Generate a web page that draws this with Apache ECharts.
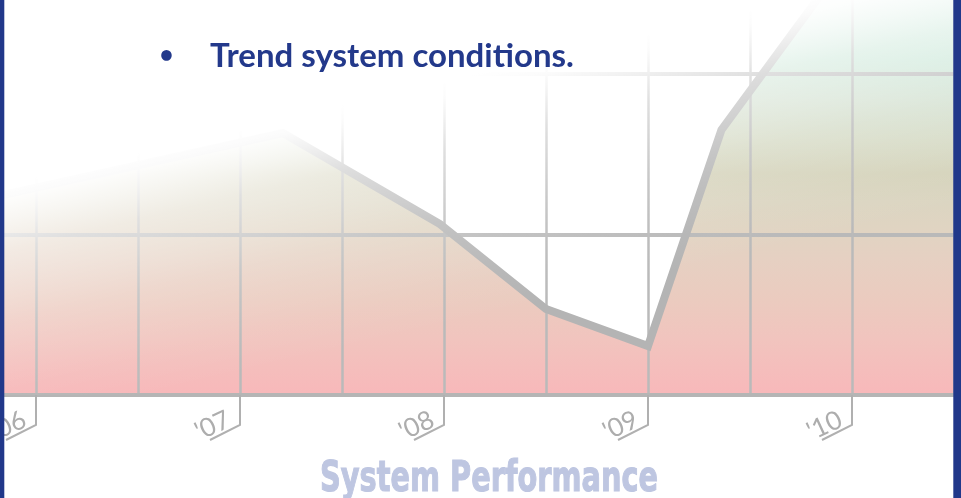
<!DOCTYPE html>
<html>
<head>
<meta charset="utf-8">
<script src="https://cdn.jsdelivr.net/npm/echarts/dist/echarts.min.js"></script>
<style>
html,body{margin:0;padding:0;background:#fff;}
body{position:relative;width:961px;height:498px;overflow:hidden;}
#chart{position:absolute;left:-66px;top:-87px;width:1027px;height:585px;}
</style>
</head>
<body>
<div id="chart"></div>
<script>
// ---- data ----
const lineYears  = [2005.5, 2007.21, 2007.98, 2008.5, 2009.0, 2009.36, 2010.0, 2010.5];
const lineValues = [1.15,   1.63,    1.064,   0.535,  0.305,  1.65,    2.757,  2.9];
const tickYears  = [2006, 2007, 2008, 2009, 2010];
const tickLabels = ["'06", "'07", "'08", "'09", "'10"];
const headline   = "Trend system conditions.";
const bullet     = "\u2022";
const caption    = "System Performance";

const seriesData = lineYears.map((y, i) => [y, lineValues[i]]);
const tickData   = tickYears.map(y => [y, 0]);

// the canvas is shifted so the plot can start outside the visible page
const OX = 66, OY = 87;

const chart = echarts.init(document.getElementById('chart'), null, {renderer: 'canvas'});

const areaGradient = new echarts.graphic.LinearGradient(0, OY, 0, OY + 395, [
  {offset: 0.00, color: '#cfeadd'},
  {offset: 0.15, color: '#c8e6d6'},
  {offset: 0.25, color: '#d3e1d1'},
  {offset: 0.35, color: '#d6dbc6'},
  {offset: 0.44, color: '#d5d3bb'},
  {offset: 0.51, color: '#dbd5c1'},
  {offset: 0.58, color: '#e0d4c2'},
  {offset: 0.66, color: '#e6d0c2'},
  {offset: 0.76, color: '#ebcbbf'},
  {offset: 0.86, color: '#f1c4be'},
  {offset: 1.00, color: '#f8b8ba'}
], true);

// white haze fading from the top-left corner
const nx = 0.227, ny = 0.974;
const hazeGradient = new echarts.graphic.LinearGradient(
  OX + nx * 100, OY + ny * 100, OX + nx * 500, OY + ny * 500, [
  {offset: 0.0000, color: 'rgba(255,255,255,1)'},
  {offset: 0.2000, color: 'rgba(255,255,255,1)'},
  {offset: 0.2375, color: 'rgba(255,255,255,0.95)'},
  {offset: 0.2875, color: 'rgba(255,255,255,0.8)'},
  {offset: 0.3625, color: 'rgba(255,255,255,0.55)'},
  {offset: 0.4125, color: 'rgba(255,255,255,0.45)'},
  {offset: 0.4800, color: 'rgba(255,255,255,0.33)'},
  {offset: 0.5375, color: 'rgba(255,255,255,0.22)'},
  {offset: 0.6025, color: 'rgba(255,255,255,0.14)'},
  {offset: 0.7000, color: 'rgba(255,255,255,0.05)'},
  {offset: 0.8000, color: 'rgba(255,255,255,0)'},
  {offset: 1.0000, color: 'rgba(255,255,255,0)'}
], true);

const option = {
  animation: false,
  backgroundColor: '#ffffff',
  title: [
    {
      text: bullet, left: OX + 154.5, top: OY + 38, z: 20,
      textStyle: {color: '#23398b', fontSize: 24, fontWeight: 'bold', fontFamily: 'Lato'}
    },
    {
      text: headline, left: OX + 205, top: OY + 34.5, z: 20,
      textStyle: {color: '#23398b', fontSize: 33, fontWeight: 'bold', fontFamily: 'Lato'}
    }
  ],
  grid: {left: 0, right: 7, top: 0, bottom: 103, containLabel: false},
  xAxis: {
    type: 'value', min: 2005.5, max: 2010.5, interval: 0.5, z: 2,
    axisLine: {show: true, onZero: false, lineStyle: {color: '#b5b5b5', width: 4}},
    axisTick: {show: false},
    axisLabel: {show: false},
    splitLine: {show: true, lineStyle: {color: '#bababa', width: 2.5}}
  },
  yAxis: {
    type: 'value', min: 0, max: 3, interval: 1, z: 2,
    axisLine: {show: false}, axisTick: {show: false}, axisLabel: {show: false},
    splitLine: {show: true, lineStyle: {color: '#b9b9b9', width: 4}}
  },
  series: [
    {
      type: 'line', data: seriesData, z: 1, symbol: 'none', silent: true,
      lineStyle: {width: 0},
      areaStyle: {color: areaGradient, opacity: 1}
    },
    {
      type: 'line', data: seriesData, z: 3, symbol: 'none', silent: true,
      lineStyle: {width: 8, color: '#b4b4b4', join: 'miter'}
    },
    {
      type: 'custom', data: tickData, z: 3, silent: true, clip: false,
      renderItem: function (params, api) {
        const p = api.coord([api.value(0), api.value(1)]);
        const x = p[0], y = p[1];
        return {
          type: 'group',
          children: [
            {type: 'polyline', shape: {points: [[x, y], [x, y + 30], [x - 30, y + 45]]},
             style: {stroke: '#b0b0b0', lineWidth: 2, fill: null}},
            {type: 'text', x: x - 6, y: y + 35, rotation: 25 * Math.PI / 180,
             style: {text: tickLabels[params.dataIndex], fill: '#adadad',
                     font: '400 26px Lato, sans-serif', align: 'right', verticalAlign: 'bottom'}}
          ]
        };
      }
    }
  ],
  graphic: {
    elements: [
      {type: 'rect', z: 10, silent: true, shape: {x: OX, y: OY, width: 961, height: 395}, style: {fill: hazeGradient}},
      {type: 'text', z: 20, silent: true, x: OX + 489, y: OY + 480.5, scaleX: 0.686,
       style: {text: caption, fill: '#bec6e1', stroke: '#bec6e1', lineWidth: 1.2,
               font: 'bold 42px "DejaVu Sans", sans-serif',
               align: 'center', verticalAlign: 'middle'}},
      {type: 'rect', z: 30, silent: true, shape: {x: OX, y: OY, width: 4.3, height: 498}, style: {fill: '#21388a'}},
      {type: 'rect', z: 30, silent: true, shape: {x: OX + 953.3, y: OY, width: 8, height: 498}, style: {fill: '#21388a'}}
    ]
  }
};
chart.setOption(option);
</script>
</body>
</html>
